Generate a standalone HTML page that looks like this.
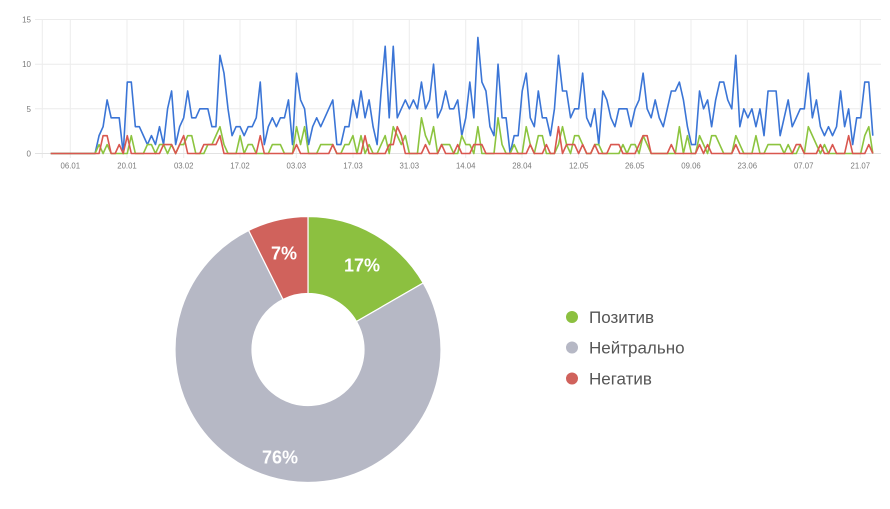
<!DOCTYPE html>
<html><head><meta charset="utf-8"><style>
html,body{margin:0;padding:0;background:#fff;}
svg{display:block;font-family:"Liberation Sans",Arial,sans-serif;}
</style></head><body>
<svg id="s" width="890" height="509" viewBox="0 0 890 509" xmlns="http://www.w3.org/2000/svg">
<rect width="890" height="509" fill="#fff"/>
<g stroke="#ececec" stroke-width="1">
<line x1="35" y1="19.5" x2="881" y2="19.5"/>
<line x1="35" y1="64.2" x2="881" y2="64.2"/>
<line x1="35" y1="108.8" x2="881" y2="108.8"/>
<line x1="42.3" y1="19.5" x2="42.3" y2="158"/>
<line x1="70.3" y1="19.5" x2="70.3" y2="158"/>
<line x1="127" y1="19.5" x2="127" y2="158"/>
<line x1="183.7" y1="19.5" x2="183.7" y2="158"/>
<line x1="240" y1="19.5" x2="240" y2="158"/>
<line x1="296.3" y1="19.5" x2="296.3" y2="158"/>
<line x1="353" y1="19.5" x2="353" y2="158"/>
<line x1="409.3" y1="19.5" x2="409.3" y2="158"/>
<line x1="465.7" y1="19.5" x2="465.7" y2="158"/>
<line x1="522" y1="19.5" x2="522" y2="158"/>
<line x1="578.7" y1="19.5" x2="578.7" y2="158"/>
<line x1="634.7" y1="19.5" x2="634.7" y2="158"/>
<line x1="691" y1="19.5" x2="691" y2="158"/>
<line x1="747.3" y1="19.5" x2="747.3" y2="158"/>
<line x1="803.7" y1="19.5" x2="803.7" y2="158"/>
<line x1="860.3" y1="19.5" x2="860.3" y2="158"/>
</g>
<line x1="35" y1="153.5" x2="881" y2="153.5" stroke="#e2e2e2" stroke-width="1"/>
<g fill="#7a7a7a" font-size="8" text-anchor="end">
<text x="31" y="22.5">15</text>
<text x="31" y="67.2">10</text>
<text x="31" y="111.8">5</text>
<text x="31" y="156.5">0</text>
</g>
<g fill="#7a7a7a" font-size="7.8" text-anchor="middle">
<text x="70.3" y="168.6">06.01</text>
<text x="127" y="168.6">20.01</text>
<text x="183.7" y="168.6">03.02</text>
<text x="240" y="168.6">17.02</text>
<text x="296.3" y="168.6">03.03</text>
<text x="353" y="168.6">17.03</text>
<text x="409.3" y="168.6">31.03</text>
<text x="465.7" y="168.6">14.04</text>
<text x="522" y="168.6">28.04</text>
<text x="578.7" y="168.6">12.05</text>
<text x="634.7" y="168.6">26.05</text>
<text x="691" y="168.6">09.06</text>
<text x="747.3" y="168.6">23.06</text>
<text x="803.7" y="168.6">07.07</text>
<text x="860.3" y="168.6">21.07</text>
</g>
<polyline id="pb" fill="none" stroke="#3b75d6" stroke-width="1.6" stroke-linejoin="round"/>
<polyline id="pg" fill="none" stroke="#8cc43f" stroke-width="1.6" stroke-linejoin="round"/>
<polyline id="pr" fill="none" stroke="#d9574f" stroke-width="1.6" stroke-linejoin="round"/>

<g stroke="#fff" stroke-width="1.2">
<path d="M308,216.5 A133,133 0 0 1 423.18,283 L356.5,321.5 A56,56 0 0 0 308,293.5 Z" fill="#8cc040"/>
<path d="M423.18,283 A133,133 0 1 1 248.65,230.48 L283.01,299.39 A56,56 0 1 0 356.5,321.5 Z" fill="#b6b8c5"/>
<path d="M248.65,230.48 A133,133 0 0 1 308,216.5 L308,293.5 A56,56 0 0 0 283.01,299.39 Z" fill="#d0625c"/>
</g>
<g fill="#fff" font-size="18" font-weight="bold" text-anchor="middle">
<text x="362" y="271.5">17%</text>
<text x="284" y="259.5">7%</text>
<text x="280" y="463.5">76%</text>
</g>
<circle cx="572" cy="317" r="6" fill="#8cc040"/>
<circle cx="572" cy="347.5" r="6" fill="#b6b8c5"/>
<circle cx="572" cy="378.5" r="6" fill="#d0625c"/>
<g fill="#555" font-size="17">
<text x="589" y="323">Позитив</text>
<text x="589" y="353.5">Нейтрально</text>
<text x="589" y="384.5">Негатив</text>
</g>
</svg>
<script>
(function(){
var z=function(n){var a=[];for(var i=0;i<n;i++)a.push(0);return a;};
var blue=z(12).concat([2,3,6,4,4,4,0,8,8,3,3,2,1,2,1,3,1,5,7,1,3,4,7,4,4,5,5,5,3,3,11,9,5,2,3,3,2,3,3,4,8,1,3,4,3,4,4,6,1,9,6,5,1,3,4,3,4,5,6,1,1,3,3,6,4,7,4,6,3,1,7,12,4,12,4,5,6,5,6,5,8,5,6,10,4,5,7,5,
5,6,2,4,8,4,13,8,7,3,2,10,4,4,0,2,2,7,9,4,3,7,4,4,2,5,11,7,7,4,5,5,9,4,3,5,1,7,6,4,3,5,5,5,3,5,6,9,5,4,6,4,3,5,7,7,8,6,3,1,1,7,5,6,3,6,8,8,6,5,11,3,5,4,5,3,5,2,7,7,7,2,4,6,3,4,5,5,9,4,6,3,2,3,2,3,7,3,5,1,4,4,8,8,2]);
var green=z(12).concat([1,0,1,0,0,0,0,0,2,0,0,0,1,1,0,1,1,0,1,0,1,1,2,2,0,0,0,1,1,2,3,1,0,0,0,2,0,1,1,0,0,0,0,1,1,1,0,0,0,3,1,3,0,0,0,1,1,1,1,0,0,1,1,2,0,2,0,1,0,0,1,2,0,3,2,1,2,0,0,0,4,2,1,3,0,1,1,1,
0,0,2,1,1,0,3,0,0,0,0,4,1,0,0,1,0,0,3,1,0,2,2,0,0,0,1,3,1,0,2,2,1,0,0,1,1,0,0,0,0,0,1,0,1,1,0,2,1,0,0,0,0,0,0,0,3,0,2,0,0,2,1,0,2,2,1,0,0,0,2,1,0,0,0,2,0,0,1,1,1,1,0,1,0,0,1,0,3,2,1,0,1,0,0,0,0,0,0,0,0,0,2,3,0]);
var red=z(205);
var rs={13:2,14:2,17:1,19:2,28:1,29:1,30:1,32:1,33:2,38:1,39:1,40:1,41:1,42:2,52:2,61:1,70:1,78:2,84:1,85:1,86:3,87:2,93:1,97:1,101:1,105:1,106:1,107:1,119:1,123:1,126:3,128:1,129:1,130:1,132:1,135:1,139:1,140:1,141:1,146:1,147:2,148:2,154:1,161:1,163:1,170:1,185:1,186:1,191:1,194:1,198:2,203:1};
for(var k in rs)red[+k]=rs[k];
function pts(a){var s=[];for(var i=0;i<a.length&&i<205;i++){s.push((50.7+i*4.03).toFixed(2)+','+(153.5-a[i]*8.93).toFixed(2));}return s.join(' ');}
document.getElementById('pb').setAttribute('points',pts(blue));
document.getElementById('pg').setAttribute('points',pts(green));
document.getElementById('pr').setAttribute('points',pts(red));
})();
</script>
</body></html>
